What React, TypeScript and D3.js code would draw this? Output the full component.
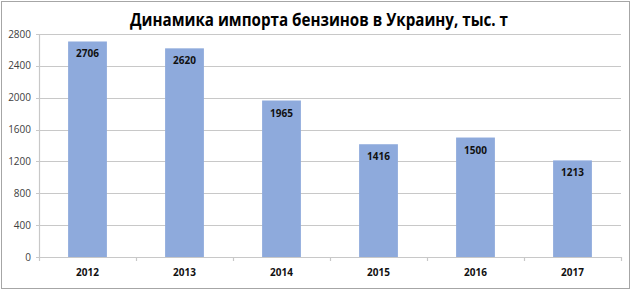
import React, { useEffect, useRef } from "react";
import * as d3 from "d3";

const years = ["2012", "2013", "2014", "2015", "2016", "2017"];
const imports = [2706, 2620, 1965, 1416, 1500, 1213];
const yTicks = [0, 400, 800, 1200, 1600, 2000, 2400, 2800];
const title = "Динамика импорта бензинов в Украину, тыс. т";

const W = 631;
const H = 291;

const App = () => {
  const svgRef = useRef<SVGSVGElement>(null);

  useEffect(() => {
    const svg = d3.select(svgRef.current);
    svg.selectAll("*").remove();

    const margin = { top: 34, right: 10, bottom: 34, left: 39 };
    const font = "Open Sans, 'Liberation Sans', Arial, sans-serif";

    // chart frame
    svg
      .append("rect")
      .attr("x", 1.5)
      .attr("y", 1.5)
      .attr("width", W - 3)
      .attr("height", H - 4)
      .attr("fill", "#fff")
      .attr("stroke", "#a6a6a6")
      .attr("stroke-width", 1);

    const x = d3
      .scaleBand()
      .domain(years)
      .range([margin.left, W - margin.right])
      .paddingInner(0.6)
      .paddingOuter(0.3);

    const y = d3
      .scaleLinear()
      .domain([0, 2800])
      .range([H - margin.bottom, margin.top]);

    // gridlines
    svg
      .append("g")
      .selectAll("line")
      .data(yTicks)
      .join("line")
      .attr("x1", margin.left - 3)
      .attr("x2", W - margin.right)
      .attr("y1", (d) => Math.round(y(d)) + 0.5)
      .attr("y2", (d) => Math.round(y(d)) + 0.5)
      .attr("stroke", "#c8c8c8")
      .attr("stroke-width", 1.2);

    // y tick labels
    svg
      .append("g")
      .selectAll("text")
      .data(yTicks)
      .join("text")
      .attr("x", margin.left - 8)
      .attr("y", (d) => y(d))
      .attr("dy", "0.35em")
      .attr("text-anchor", "end")
      .attr("font-family", font)
      .attr("font-size", 10)
      .attr("fill", "#404040")
      .text((d) => d);

    // y axis line
    svg
      .append("line")
      .attr("x1", margin.left + 0.5)
      .attr("x2", margin.left + 0.5)
      .attr("y1", y(2800))
      .attr("y2", y(0))
      .attr("stroke", "#c8c8c8")
      .attr("stroke-width", 1.2);

    // bars
    svg
      .append("g")
      .selectAll("rect")
      .data(imports)
      .join("rect")
      .attr("x", (d, i) => x(years[i])!)
      .attr("y", (d) => y(d))
      .attr("width", x.bandwidth())
      .attr("height", (d) => y(0) - y(d))
      .attr("fill", "#8eaadc");

    // category tick marks
    const step = (W - margin.right - margin.left) / years.length;
    svg
      .append("g")
      .selectAll("line")
      .data(d3.range(years.length + 1))
      .join("line")
      .attr("x1", (i) => margin.left + i * step + 0.5)
      .attr("x2", (i) => margin.left + i * step + 0.5)
      .attr("y1", y(0))
      .attr("y2", y(0) + 4)
      .attr("stroke", "#c8c8c8")
      .attr("stroke-width", 1.2);

    // value labels
    svg
      .append("g")
      .selectAll("text")
      .data(imports)
      .join("text")
      .attr("x", (d, i) => x(years[i])! + x.bandwidth() / 2)
      .attr("y", (d) => y(d) + 16)
      .attr("text-anchor", "middle")
      .attr("font-family", font)
      .attr("font-size", 10)
      .attr("font-weight", "bold")
      .attr("fill", "#111")
      .text((d) => d);

    // category labels
    svg
      .append("g")
      .selectAll("text")
      .data(years)
      .join("text")
      .attr("x", (d) => x(d)! + x.bandwidth() / 2)
      .attr("y", y(0) + 19)
      .attr("text-anchor", "middle")
      .attr("font-family", font)
      .attr("font-size", 10)
      .attr("font-weight", "bold")
      .attr("fill", "#111")
      .text((d) => d);

    // title
    svg
      .append("text")
      .attr("x", 319)
      .attr("y", 26)
      .attr("text-anchor", "middle")
      .attr("font-family", font)
      .attr("font-size", 17)
      .attr("font-weight", "bold")
      .attr("fill", "#000")
      .attr("textLength", 378)
      .attr("lengthAdjust", "spacingAndGlyphs")
      .text(title);
  }, []);

  return (
    <svg
      ref={svgRef}
      width={W}
      height={H}
      style={{ position: "absolute", left: 0, top: 0 }}
    ></svg>
  );
};

export default App;
